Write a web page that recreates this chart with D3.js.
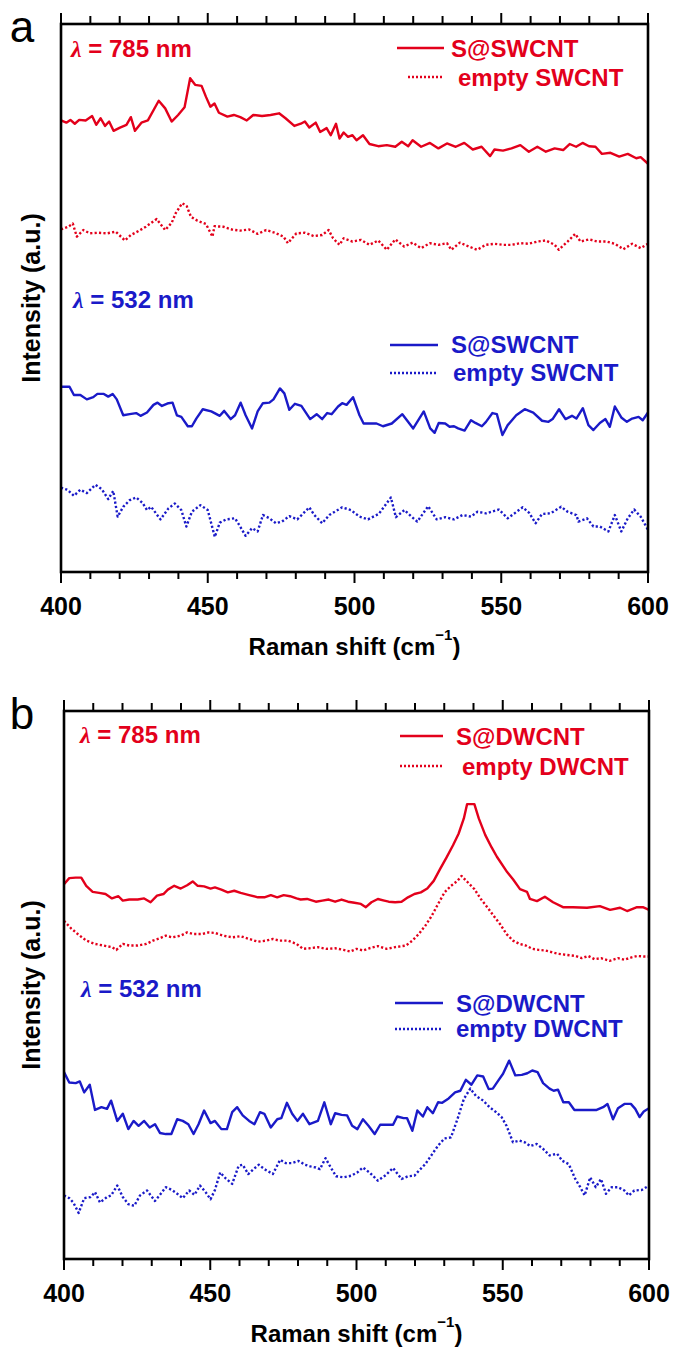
<!DOCTYPE html>
<html><head><meta charset="utf-8">
<script src="https://cdn.jsdelivr.net/npm/d3@7"></script>
<style>html,body{margin:0;padding:0;background:#fff;}svg{display:block;}</style>
</head><body>
<script>
// ---- Data (Raman shift cm^-1, intensity a.u.) ----
const xTicksMajor = [400, 450, 500, 550, 600];
const xDomain = [400, 600];
const panelLabels = ["a", "b"];
const xLabelMain = "Raman shift (cm";
const xLabelSup = "\u22121";
const yLabel = "Intensity (a.u.)";

// Panel a : S@SWCNT / empty SWCNT
const sSWCNT785 = [[400,82.4],[401.8,82.0],[403.2,82.5],[404.7,81.8],[406.2,82.5],[408.4,82.4],[410.6,83.2],[412.0,81.6],[413.5,82.8],[415.0,81.4],[416.4,82.2],[417.9,80.5],[420.1,81.1],[422.3,81.6],[423.8,83.0],[425.2,80.5],[427.4,82.0],[429.6,82.4],[433.3,86.0],[435.5,84.6],[437.7,82.2],[439.9,83.4],[442.1,84.8],[444.0,90.1],[445.7,88.9],[447.9,88.7],[449.4,86.7],[450.9,84.9],[452.3,85.5],[453.8,83.8],[456.7,83.1],[458.9,83.4],[461.1,83.0],[463.3,82.4],[465.5,83.4],[468.5,83.2],[471.4,83.4],[474.3,83.7],[476.5,82.8],[479.5,81.4],[481.7,81.8],[483.1,82.2],[484.6,81.1],[486.8,82.0],[488.3,80.3],[490.5,81.0],[491.9,79.7],[493.7,81.8],[494.9,79.1],[496.3,80.2],[497.8,79.4],[499.3,79.7],[500.7,78.8],[502.9,79.7],[505.1,78.1],[508.1,77.7],[511.0,77.9],[513.9,77.6],[516.1,78.5],[518.3,77.7],[519.8,78.8],[522.7,77.6],[525.7,78.3],[528.6,77.3],[531.5,78.2],[534.5,77.6],[537.4,78.3],[540.3,77.1],[543.3,77.6],[546.2,75.9],[547.7,77.1],[550.6,76.9],[553.5,77.3],[556.5,77.9],[559.4,76.7],[562.3,77.6],[565.2,76.7],[568.2,77.3],[571.1,77.0],[573.3,78.1],[575.5,77.6],[577.7,78.3],[579.9,77.7],[582.1,77.6],[584.3,76.3],[587.2,76.5],[590.2,75.8],[593.1,76.3],[596.0,75.5],[597.5,75.7],[600,74.5]];
const emptySWCNT785 = [[400,62.5],[402.5,63.0],[404.0,63.6],[405.4,61.2],[407.6,62.4],[409.8,61.8],[412.8,61.9],[415.7,61.8],[418.6,62.1],[421.8,60.5],[423.8,61.5],[426.0,62.1],[428.9,63.0],[432.6,64.4],[435.5,62.4],[437.7,63.7],[439.1,65.5],[441.3,67.3],[442.8,66.8],[444.3,64.8],[446.5,64.1],[449.4,63.5],[451.6,61.2],[452.3,63.1],[455.3,63.0],[458.2,62.5],[461.1,62.3],[464.1,62.5],[467.0,61.7],[469.9,62.4],[472.9,61.9],[475.8,61.2],[477.3,60.0],[480.2,61.8],[483.1,61.9],[486.1,61.3],[489.0,61.5],[491.2,62.4],[492.7,60.9],[494.9,59.7],[496.3,60.9],[499.3,60.3],[502.2,60.6],[505.1,59.7],[508.1,60.5],[511.0,58.8],[513.9,60.7],[516.9,59.4],[519.8,60.1],[522.7,59.1],[525.7,60.0],[528.6,59.7],[531.5,60.0],[533.0,58.8],[535.9,60.1],[538.9,59.4],[541.8,58.8],[544.7,59.7],[547.7,59.9],[550.6,59.7],[553.5,59.7],[556.5,60.0],[559.4,59.9],[562.3,60.3],[565.2,60.5],[568.2,59.7],[569.6,58.8],[572.6,60.3],[575.2,61.7],[577.0,60.3],[579.9,60.7],[582.8,60.3],[585.8,60.3],[588.7,59.9],[591.6,58.9],[594.6,59.9],[597.5,59.1],[600,59.9]];
const sSWCNT532 = [[400,33.8],[402.9,33.8],[404.4,32.3],[406.6,32.3],[408.8,31.5],[411.0,31.9],[412.4,32.5],[414.6,32.5],[416.1,32.0],[417.6,32.5],[419.0,31.5],[421.2,28.6],[423.4,28.8],[425.6,29.0],[427.1,28.5],[429.3,29.1],[431.5,30.5],[432.9,30.9],[434.4,30.3],[436.6,30.8],[438.0,30.9],[439.5,28.6],[441.0,28.3],[443.2,26.6],[444.6,26.6],[446.1,28.0],[448.3,29.7],[451.2,29.3],[454.1,28.5],[455.6,29.4],[457.8,27.9],[459.3,28.6],[461.2,30.9],[462.9,28.6],[465.1,26.2],[467.0,29.3],[468.8,30.8],[471.0,30.9],[472.4,31.5],[474.6,33.5],[476.1,32.6],[477.8,29.6],[479.7,30.7],[481.9,30.3],[484.9,27.9],[487.1,28.8],[489.0,27.9],[490.7,29.0],[492.2,28.8],[494.4,30.2],[495.8,30.8],[497.3,30.5],[499.5,31.9],[501.7,28.6],[503.1,27.1],[505.3,27.1],[507.5,27.1],[509.7,26.6],[512.7,27.1],[516.3,28.8],[520.0,26.2],[523.6,29.3],[525.8,26.2],[527.3,25.4],[528.7,27.2],[530.9,27.1],[532.4,26.5],[533.9,26.6],[535.3,26.2],[537.5,25.8],[539.7,27.7],[541.2,27.2],[543.4,26.6],[544.8,27.4],[547.0,29.0],[548.5,28.8],[550.4,25.0],[552.2,26.8],[555.1,28.6],[558.0,29.7],[560.9,29.1],[563.9,27.6],[566.1,27.4],[567.5,27.9],[569.7,29.7],[571.9,27.9],[574.1,28.5],[575.6,28.0],[577.8,29.9],[579.7,26.8],[581.4,25.9],[583.6,27.2],[585.5,27.9],[587.0,26.5],[588.7,30.2],[590.9,28.2],[592.8,27.4],[594.6,28.0],[596.8,28.3],[598.2,27.7],[600,29.1]];
const emptySWCNT532 = [[400,15.4],[402.2,15.0],[404.4,13.9],[406.6,15.0],[408.8,14.4],[411.7,15.9],[413.9,15.1],[416.1,13.3],[417.8,14.8],[419.3,10.1],[421.2,11.9],[423.4,13.1],[425.6,13.6],[427.8,12.6],[429.3,11.3],[430.7,11.9],[433.9,9.6],[436.6,11.6],[438.8,12.5],[441.0,11.3],[442.7,8.3],[444.6,11.0],[447.5,12.2],[450.0,11.3],[452.4,6.4],[454.1,9.0],[456.3,9.6],[459.3,9.8],[460.7,8.6],[462.9,6.6],[465.1,8.0],[467.0,7.4],[468.8,10.4],[471.0,9.8],[473.2,8.9],[475.3,9.2],[477.8,10.2],[480.5,9.6],[484.6,11.8],[486.3,10.4],[489.0,8.9],[491.4,10.4],[495.8,11.8],[498.8,11.3],[501.7,10.1],[504.6,9.6],[508.3,10.6],[512.4,13.6],[514.1,10.0],[517.0,11.3],[519.2,10.2],[521.4,9.2],[525.1,12.0],[528.0,9.6],[530.9,10.0],[533.9,9.6],[536.8,10.4],[539.7,10.1],[541.9,11.0],[544.8,10.7],[549.2,11.4],[552.2,9.8],[557.3,11.8],[559.5,10.8],[561.7,8.9],[563.9,10.6],[566.8,10.7],[570.4,11.9],[572.6,11.0],[575.6,10.4],[576.3,9.2],[579.2,9.8],[581.4,8.3],[583.6,8.3],[586.5,7.4],[588.7,10.4],[590.9,7.4],[593.1,9.8],[595.3,11.4],[597.5,10.1],[600,7.7]];

// Panel b : S@DWCNT / empty DWCNT
const sDWCNT785 = [[400,68.4],[401.8,69.5],[404.0,69.6],[405.9,69.6],[407.6,68.1],[409.8,67.0],[412.0,66.8],[414.2,66.6],[416.4,65.8],[418.6,66.2],[420.1,65.4],[422.3,65.6],[425.2,65.6],[427.4,65.8],[429.6,65.1],[431.8,66.3],[434.0,66.6],[435.5,67.4],[437.7,68.1],[439.9,67.6],[442.1,68.2],[444.0,68.9],[445.7,68.1],[447.9,68.0],[450.1,67.6],[451.6,67.8],[453.8,67.4],[456.0,66.9],[458.2,67.2],[460.4,66.8],[463.3,66.4],[466.3,66.0],[468.5,66.0],[470.7,66.4],[472.9,66.0],[475.1,66.4],[477.3,66.2],[479.5,65.8],[480.9,65.6],[483.1,65.7],[486.1,65.2],[488.3,65.4],[490.5,65.6],[492.7,65.2],[494.9,65.6],[497.1,65.2],[499.3,65.0],[501.5,64.8],[503.2,64.2],[505.1,65.1],[507.3,65.7],[509.5,65.4],[511.0,65.2],[513.2,65.1],[515.4,65.2],[517.6,66.0],[519.8,66.6],[522.0,66.9],[524.2,67.6],[526.4,69.0],[528.6,71.2],[530.8,73.3],[533.0,75.5],[534.9,77.6],[536.7,80.4],[537.8,83.0],[540.3,83.0],[541.8,80.4],[544.0,77.4],[546.2,75.1],[548.0,73.4],[551.5,70.6],[553.5,69.3],[555.9,67.5],[558.3,67.0],[559.3,65.7],[561.7,65.3],[564.4,66.1],[567.2,65.1],[570.6,64.2],[574.0,64.2],[578.8,64.1],[583.2,64.4],[586.7,63.7],[590.1,64.1],[592.5,63.5],[595.9,64.2],[597.9,64.2],[600,63.7]];
const emptyDWCNT785 = [[400,61.7],[402.5,60.3],[404.7,59.3],[407.6,58.1],[410.6,57.5],[413.5,57.2],[416.4,56.9],[417.9,56.4],[420.1,57.5],[422.3,57.2],[425.2,57.2],[428.2,57.5],[430.4,58.1],[432.6,58.5],[434.8,59.0],[437.0,58.7],[439.9,59.0],[442.1,59.6],[444.3,59.3],[447.2,59.3],[449.4,59.6],[451.6,59.5],[454.5,59.0],[457.5,58.7],[460.4,58.9],[463.3,58.4],[466.3,57.9],[469.2,58.1],[471.4,58.4],[473.6,58.1],[476.5,58.1],[479.5,57.5],[481.7,56.6],[483.9,56.7],[486.8,56.9],[489.7,56.6],[492.7,56.7],[495.6,56.4],[497.8,56.1],[500.0,56.6],[502.2,56.3],[504.4,56.7],[507.3,57.1],[510.3,56.6],[513.2,56.9],[516.9,57.2],[519.1,58.1],[521.3,59.3],[523.5,60.8],[525.7,62.6],[527.9,64.8],[530.1,66.9],[532.3,68.1],[534.5,69.0],[535.9,69.9],[538.1,68.7],[540.3,67.5],[542.5,65.7],[544.7,64.2],[546.9,62.6],[549.1,61.1],[551.3,59.3],[553.5,58.1],[555.7,57.5],[557.9,57.2],[560.1,56.6],[562.3,56.4],[564.5,56.3],[566.7,56.0],[568.9,55.7],[571.8,55.5],[574.8,55.3],[577.0,54.9],[579.2,55.3],[581.4,54.7],[583.6,54.9],[586.5,54.4],[589.4,54.9],[591.6,54.6],[593.8,55.0],[596.0,55.3],[598.2,55.2],[600,55.2]];
const sDWCNT532 = [[400,34.1],[401.8,32.2],[404.0,32.1],[405.4,32.4],[406.9,30.4],[408.8,31.8],[410.6,27.2],[412.8,27.7],[414.7,27.4],[416.1,28.9],[418.2,25.2],[420.1,26.5],[422.0,23.7],[423.8,25.2],[425.5,24.3],[427.4,25.2],[429.3,24.0],[431.1,24.6],[432.8,23.0],[434.8,22.8],[436.7,22.8],[438.7,25.5],[440.6,25.2],[442.5,24.6],[444.3,22.8],[446.0,24.6],[447.9,27.1],[450.1,24.8],[451.6,25.2],[453.8,23.7],[455.7,23.7],[457.5,26.8],[459.2,27.7],[461.1,26.2],[463.3,25.2],[465.1,24.6],[467.0,26.8],[468.5,26.5],[470.7,24.0],[472.9,25.5],[474.3,25.7],[476.2,28.5],[478.0,26.5],[479.8,25.2],[481.7,26.5],[483.9,24.6],[486.8,25.2],[489.0,28.6],[491.2,24.6],[492.7,26.6],[494.9,26.3],[496.8,26.2],[498.5,24.3],[500.3,23.7],[502.2,25.5],[504.1,24.3],[506.2,22.8],[508.1,24.5],[510.3,24.5],[512.5,24.5],[513.9,26.0],[516.1,25.7],[517.3,25.7],[519.1,23.4],[520.8,27.1],[522.7,26.0],[524.2,27.7],[526.1,26.6],[527.9,28.6],[529.3,28.5],[531.5,29.3],[533.7,30.4],[535.5,30.7],[537.4,32.7],[539.3,31.8],[541.3,33.5],[543.3,33.3],[545.2,31.0],[546.6,31.1],[548.4,32.5],[550.1,33.8],[552.2,36.2],[554.3,33.5],[556.5,33.6],[558.4,33.9],[560.1,34.4],[561.9,34.1],[563.8,32.1],[566.0,31.1],[567.4,30.7],[568.9,30.9],[570.7,28.6],[572.6,28.6],[574.5,27.2],[577.0,27.2],[579.9,27.2],[582.1,27.2],[584.3,27.7],[585.8,28.3],[587.7,25.5],[589.4,27.5],[591.6,28.3],[593.8,28.3],[595.3,27.4],[596.8,25.9],[598.2,26.9],[600,27.5]];
const emptyDWCNT532 = [[400,11.6],[401.8,11.1],[403.2,10.3],[405.0,8.4],[406.9,11.1],[409.1,11.3],[410.6,12.2],[412.3,10.3],[414.7,11.3],[416.1,11.6],[418.2,13.4],[420.1,11.3],[422.0,10.0],[424.0,9.7],[426.0,11.6],[428.4,12.5],[431.1,10.6],[432.8,11.7],[434.8,13.1],[436.9,12.6],[438.7,11.9],[440.6,11.1],[442.8,12.5],[444.6,11.7],[446.5,13.4],[448.4,12.2],[450.1,10.9],[451.6,12.6],[453.4,15.8],[455.3,14.7],[457.5,13.7],[459.7,17.0],[461.1,17.2],[463.0,15.5],[464.8,16.4],[466.6,17.2],[468.5,16.4],[471.4,15.5],[473.9,18.1],[475.8,17.5],[478.0,17.5],[480.2,17.9],[482.4,17.2],[484.2,16.9],[486.1,16.7],[487.5,16.4],[489.4,18.4],[491.2,16.7],[493.0,15.1],[495.6,14.9],[498.2,15.2],[500.3,15.8],[502.2,16.7],[504.4,15.8],[507.3,14.3],[510.0,15.3],[512.5,16.6],[515.4,14.6],[517.6,15.1],[519.8,15.2],[521.3,16.1],[523.5,17.3],[525.7,19.0],[527.9,20.7],[530.1,22.0],[532.3,22.2],[534.5,25.5],[536.7,29.2],[538.9,31.1],[540.8,29.8],[543.3,28.9],[545.5,27.7],[547.7,26.8],[549.6,25.9],[551.3,24.3],[553.5,21.3],[555.7,21.6],[557.5,21.3],[559.4,20.6],[561.6,21.0],[563.8,20.1],[566.0,18.9],[568.6,19.2],[570.4,17.9],[572.6,17.3],[574.8,14.6],[576.5,13.1],[578.0,11.6],[579.9,14.9],[581.8,13.1],[583.6,14.6],[585.3,11.9],[587.2,13.1],[589.4,13.1],[591.6,12.5],[593.1,11.6],[595.0,12.5],[597.5,12.6],[600,13.4]];

const seriesNamesA = ["S@SWCNT", "empty SWCNT"];
const seriesNamesB = ["S@DWCNT", "empty DWCNT"];
const wavelengths = ["785", "532"];

// ---- Styling / layout ----
const RED = "#e3001b", BLUE = "#1a1ac8";
const W = 673, H = 1347;
const svg = d3.select("body").append("svg").attr("width", W).attr("height", H)
  .style("font-family", "'Liberation Sans', Arial, sans-serif");

const panels = [
  {label: panelLabels[0], left: 61, right: 648, top: 24, bottom: 572, names: seriesNamesA,
   series: [
     {data: sSWCNT785, color: RED, dotted: false},
     {data: emptySWCNT785, color: RED, dotted: true},
     {data: sSWCNT532, color: BLUE, dotted: false},
     {data: emptySWCNT532, color: BLUE, dotted: true}],
   lam: [{x: 71, y: 57}, {x: 73, y: 308}],
   leg: [
     {x1: 397, x2: 444, ly: 48, tx: 451, ty: 57, color: RED, dotted: false, name: 0},
     {x1: 408, x2: 444, ly: 77, tx: 458, ty: 86, color: RED, dotted: true, name: 1},
     {x1: 390, x2: 438, ly: 345, tx: 451, ty: 353, color: BLUE, dotted: false, name: 0},
     {x1: 390, x2: 438, ly: 373, tx: 453, ty: 381, color: BLUE, dotted: true, name: 1}]},
  {label: panelLabels[1], left: 64, right: 649, top: 711, bottom: 1259, names: seriesNamesB,
   series: [
     {data: sDWCNT785, color: RED, dotted: false},
     {data: emptyDWCNT785, color: RED, dotted: true},
     {data: sDWCNT532, color: BLUE, dotted: false},
     {data: emptyDWCNT532, color: BLUE, dotted: true}],
   lam: [{x: 80, y: 743}, {x: 81, y: 997}],
   leg: [
     {x1: 400, x2: 443, ly: 736, tx: 456, ty: 745, color: RED, dotted: false, name: 0},
     {x1: 400, x2: 443, ly: 766, tx: 462, ty: 775, color: RED, dotted: true, name: 1},
     {x1: 395, x2: 443, ly: 1003, tx: 456, ty: 1012, color: BLUE, dotted: false, name: 0},
     {x1: 395, x2: 443, ly: 1029, tx: 456, ty: 1037, color: BLUE, dotted: true, name: 1}]}
];

panels.forEach(p => {
  const x = d3.scaleLinear().domain(xDomain).range([p.left, p.right]);
  const y = d3.scaleLinear().domain([0, 100]).range([p.bottom, p.top]);
  const g = svg.append("g");

  // curves
  const line = d3.line().x(d => x(d[0])).y(d => y(d[1]));
  p.series.forEach(s => {
    g.append("path").datum(s.data).attr("d", line)
      .attr("fill", "none").attr("stroke", s.color)
      .attr("stroke-width", 2.4).attr("stroke-linejoin", "round")
      .attr("stroke-dasharray", s.dotted ? "2.2,2.2" : null);
  });

  // bottom axis (outer ticks)
  const minor = d3.range(400, 601, 10);
  const axB = g.append("g").attr("transform", `translate(0,${p.bottom})`);
  axB.selectAll("line").data(minor).join("line")
    .attr("x1", d => x(d)).attr("x2", d => x(d))
    .attr("y1", 0).attr("y2", d => d % 50 === 0 ? 11 : 7)
    .attr("stroke", "#000").attr("stroke-width", 2);
  axB.selectAll("text").data(xTicksMajor).join("text")
    .attr("x", d => x(d)).attr("y", 43).attr("text-anchor", "middle")
    .attr("font-size", 25).attr("font-weight", "bold").text(d => d);
  const axT = g.append("g").attr("transform", `translate(0,${p.top})`);
  axT.selectAll("line").data(minor).join("line")
    .attr("x1", d => x(d)).attr("x2", d => x(d))
    .attr("y1", 0).attr("y2", d => d % 50 === 0 ? -11 : -8)
    .attr("stroke", "#000").attr("stroke-width", 2);

  // frame
  g.append("rect").attr("x", p.left).attr("y", p.top)
    .attr("width", p.right - p.left).attr("height", p.bottom - p.top)
    .attr("fill", "none").attr("stroke", "#000").attr("stroke-width", 2.6);

  // x label
  const xl = g.append("text").attr("x", x(500)).attr("y", p.bottom + 83)
    .attr("text-anchor", "middle").attr("font-size", 24).attr("font-weight", "bold");
  xl.append("tspan").text(xLabelMain);
  xl.append("tspan").attr("font-size", 15).attr("dy", -15).text(xLabelSup);
  xl.append("tspan").attr("dy", 15).text(")");

  // y label
  g.append("text")
    .attr("transform", `translate(${40},${(p.top + p.bottom) / 2}) rotate(-90)`)
    .attr("text-anchor", "middle").attr("font-size", 25).attr("font-weight", "bold")
    .text(yLabel);

  // panel letter
  g.append("text").attr("x", 22).attr("y", p.top + 18).attr("text-anchor", "middle")
    .attr("font-size", 44).text(p.label);

  // wavelength labels
  p.lam.forEach((l, i) => {
    const t = g.append("text").attr("x", l.x).attr("y", l.y)
      .attr("font-size", 24).attr("font-weight", "bold").attr("fill", i === 0 ? RED : BLUE);
    t.append("tspan").attr("font-family", "'Liberation Serif', serif").attr("font-style", "italic").text("\u03bb");
    t.append("tspan").text(` = ${wavelengths[i]} nm`);
  });

  // legends
  p.leg.forEach(l => {
    g.append("line").attr("x1", l.x1).attr("x2", l.x2).attr("y1", l.ly).attr("y2", l.ly)
      .attr("stroke", l.color).attr("stroke-width", 2.4)
      .attr("stroke-dasharray", l.dotted ? "2,2" : null);
    g.append("text").attr("x", l.tx).attr("y", l.ty).attr("font-size", 24)
      .attr("font-weight", "bold").attr("fill", l.color).text(p.names[l.name]);
  });
});
</script>
</body></html>
